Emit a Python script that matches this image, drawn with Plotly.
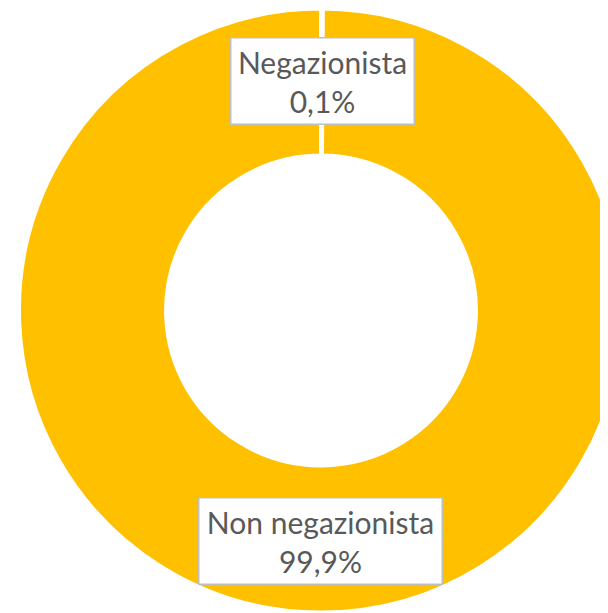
import plotly.graph_objects as go

labels = ["Negazionista", "Non negazionista"]
values = [0.1, 99.9]

yellow = "#FFC000"
W, H = 640, 613

fig = go.Figure(go.Pie(
    labels=labels,
    values=values,
    hole=0.513,
    sort=False,
    direction="clockwise",
    rotation=0,
    marker=dict(colors=[yellow, yellow], line=dict(color="white", width=4)),
    textinfo="none",
    hoverinfo="label+percent",
    showlegend=False,
    domain=dict(x=[11 / W, 615 / W], y=[8 / H, 1]),
))

def fmt(v):
    return f"{v:.1f}%".replace(".", ",")

# label boxes (Excel-style callouts)
boxes = [(314 / W, 1 - 73.5 / H, 182), (312 / W, 1 - 532.5 / H, 242)]
for lab, val, (bx, by, bw) in zip(labels, values, boxes):
    fig.add_annotation(
        x=bx, y=by, xref="paper", yref="paper",
        text=f"{lab}<br>{fmt(val)}",
        showarrow=False,
        font=dict(family="Lato", size=30, color="#595959"),
        bgcolor="white", bordercolor="#BFBFBF", borderwidth=1.5,
        borderpad=0, width=bw, height=85,
        xanchor="center", yanchor="middle",
    )

fig.update_layout(
    width=W, height=H,
    margin=dict(l=0, r=0, t=0, b=0),
    paper_bgcolor="white",
    plot_bgcolor="white",
)

# the chart is wider than the window on purpose (ring is cut on the right)
fig.write_html("out.html", post_script="document.body.style.overflow='hidden';")
